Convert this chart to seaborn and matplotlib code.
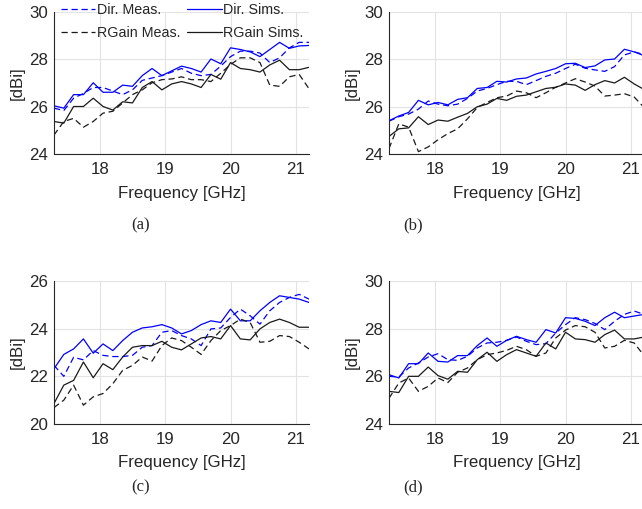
import numpy as np
import pandas as pd
import matplotlib
matplotlib.use('Agg')
import matplotlib.pyplot as plt
import seaborn as sns

# frequency grid [GHz]
freq = np.round(np.arange(17.3, 21.21, 0.15), 2)

# (a)
a_dir_meas = [25.93, 25.83, 26.35, 26.55, 26.8, 26.8, 26.65, 26.5, 26.7, 27.1, 27.2, 27.3, 27.45, 27.6,
              27.4, 27.3, 27.35, 27.7, 28.1, 28.33, 28.33, 28.25, 27.85, 28.05, 28.47, 28.7, 28.7]
a_dir_sims = [26.03, 25.93, 26.5, 26.5, 27.0, 26.6, 26.6, 26.9, 26.85, 27.3, 27.6, 27.3, 27.5, 27.7,
              27.6, 27.45, 28.0, 27.8, 28.47, 28.4, 28.3, 28.1, 28.4, 28.7, 28.45, 28.55, 28.57]
a_rg_meas = [24.8, 25.37, 25.5, 25.13, 25.37, 25.72, 25.8, 26.15, 26.5, 26.7, 27.0, 27.13, 27.16, 27.25,
             27.13, 27.13, 27.05, 27.4, 27.77, 28.05, 28.05, 27.85, 26.9, 26.85, 27.25, 27.35, 26.75]
a_rg_sims = [25.37, 25.3, 26.0, 26.0, 26.35, 26.0, 25.85, 26.2, 26.15, 26.8, 27.05, 26.7, 26.95, 27.05,
             26.95, 26.8, 27.35, 27.15, 27.85, 27.6, 27.55, 27.45, 27.75, 27.95, 27.55, 27.55, 27.65]

# (b)
b_dir_meas = [25.38, 25.57, 25.68, 25.89, 26.23, 26.1, 26.03, 26.1, 26.34, 26.65, 26.76, 26.92, 27.06, 27.06,
              26.92, 27.09, 27.27, 27.4, 27.6, 27.78, 27.61, 27.54, 27.48, 27.68, 28.17, 28.3, 28.19]
b_dir_sims = [25.4, 25.6, 25.75, 26.26, 26.07, 26.17, 26.07, 26.3, 26.37, 26.76, 26.8, 27.06, 27.03, 27.16,
              27.2, 27.37, 27.48, 27.6, 27.8, 27.82, 27.64, 27.71, 27.96, 28.0, 28.41, 28.3, 28.14]
b_rg_meas = [24.23, 25.27, 25.13, 24.1, 24.3, 24.6, 24.86, 25.06, 25.48, 25.96, 26.17, 26.37, 26.44, 26.65,
             26.58, 26.37, 26.58, 26.81, 26.99, 27.17, 27.03, 26.86, 26.44, 26.48, 26.54, 26.4, 25.96]
b_rg_sims = [24.74, 25.06, 25.1, 25.57, 25.24, 25.43, 25.38, 25.55, 25.71, 25.99, 26.1, 26.34, 26.26, 26.43,
             26.48, 26.62, 26.76, 26.81, 26.95, 26.9, 26.68, 26.92, 27.09, 26.99, 27.23, 26.95, 26.72]

# (c)
c_dir_meas = [22.46, 22.0, 22.8, 22.69, 23.08, 22.88, 22.83, 22.83, 22.88, 23.22, 23.29, 23.85, 23.92, 23.71,
              23.57, 23.29, 23.99, 24.03, 24.47, 24.82, 24.54, 24.19, 24.75, 25.1, 25.31, 25.44, 25.24]
c_dir_sims = [22.32, 22.92, 23.15, 23.57, 22.97, 23.36, 23.08, 23.5, 23.85, 24.03, 24.08, 24.17, 24.03, 23.78,
              23.92, 24.17, 24.33, 24.26, 24.82, 24.33, 24.33, 24.75, 25.1, 25.38, 25.31, 25.24, 25.1]
c_rg_meas = [20.69, 21.0, 21.63, 20.79, 21.14, 21.28, 21.69, 22.25, 22.46, 22.81, 22.64, 23.29, 23.61, 23.5,
             23.22, 22.92, 23.5, 23.92, 24.13, 24.4, 24.26, 23.43, 23.47, 23.71, 23.67, 23.43, 23.15]
c_rg_sims = [20.86, 21.63, 21.83, 22.6, 21.94, 22.53, 22.28, 22.81, 23.22, 23.29, 23.29, 23.47, 23.22, 23.11,
             23.36, 23.61, 23.67, 23.57, 24.13, 23.57, 23.53, 23.99, 24.26, 24.4, 24.26, 24.06, 24.06]

# (d)
d_dir_meas = [26.0, 25.97, 26.35, 26.56, 26.81, 26.95, 26.7, 26.67, 26.84, 27.19, 27.4, 27.43, 27.51, 27.65,
              27.47, 27.33, 27.37, 27.82, 28.17, 28.46, 28.38, 28.22, 27.96, 28.31, 28.6, 28.74, 28.6]
d_dir_sims = [26.07, 25.93, 26.53, 26.53, 26.98, 26.63, 26.6, 26.87, 26.87, 27.29, 27.61, 27.26, 27.51, 27.68,
              27.54, 27.43, 27.96, 27.82, 28.46, 28.43, 28.31, 28.13, 28.46, 28.69, 28.46, 28.53, 28.6]
d_rg_meas = [25.08, 25.72, 25.93, 25.37, 25.58, 25.93, 25.74, 26.17, 26.35, 26.7, 26.91, 26.98, 27.09, 27.26,
             27.12, 26.84, 26.98, 27.61, 27.94, 28.13, 28.08, 27.85, 27.19, 27.26, 27.51, 27.4, 26.87]
d_rg_sims = [25.37, 25.32, 26.0, 26.0, 26.39, 26.03, 25.88, 26.21, 26.17, 26.7, 27.01, 26.63, 26.91, 27.12,
             26.98, 26.84, 27.4, 27.15, 27.85, 27.57, 27.54, 27.43, 27.75, 27.94, 27.57, 27.57, 27.65]

series_names = ['Dir. Meas.', 'Dir. Sims.', 'RGain Meas.', 'RGain Sims.']
series_color = {'Dir. Meas.': '#0000ff', 'Dir. Sims.': '#0000ff',
                'RGain Meas.': 'k', 'RGain Sims.': 'k'}
series_ls = {'Dir. Meas.': (0, (5, 3)), 'Dir. Sims.': '-',
             'RGain Meas.': (0, (5, 3)), 'RGain Sims.': '-'}

panels = [
    ('(a)', [a_dir_meas, a_dir_sims, a_rg_meas, a_rg_sims], (24, 30), [24, 26, 28, 30]),
    ('(b)', [b_dir_meas, b_dir_sims, b_rg_meas, b_rg_sims], (24, 30), [24, 26, 28, 30]),
    ('(c)', [c_dir_meas, c_dir_sims, c_rg_meas, c_rg_sims], (20, 26), [20, 22, 24, 26]),
    ('(d)', [d_dir_meas, d_dir_sims, d_rg_meas, d_rg_sims], (24, 30), [24, 26, 28, 30]),
]

sns.set_theme(style='white')
plt.rcParams['font.family'] = ['Liberation Sans', 'DejaVu Sans']

W, H = 642, 509
fig = plt.figure(figsize=(W / 100, H / 100), dpi=100)

# axes boxes in pixels: left, top, right, bottom
boxes = [(54, 11.5, 309, 154), (389, 11.5, 644, 154),
         (54, 281, 309, 424), (389, 281, 644, 424)]
cap_pos = [(141, 225), (413, 225), (141, 487), (413, 487)]

axc = '#262626'
axes = []
for (cap, vals, ylim, yticks), (l, t, r, b), (cx, cy) in zip(panels, boxes, cap_pos):
    ax = fig.add_axes([l / W, 1 - b / H, (r - l) / W, (b - t) / H])
    df = pd.DataFrame({'freq': np.tile(freq, 4),
                       'val': np.concatenate(vals),
                       'series': np.repeat(series_names, len(freq))})
    for name in series_names:
        sub = df[df['series'] == name]
        sns.lineplot(data=sub, x='freq', y='val', ax=ax, color=series_color[name],
                     linestyle=series_ls[name], linewidth=0.9, label=name, legend=False,
                     clip_on=True)
    ax.set_xlim(17.3, 21.2)
    ax.set_ylim(*ylim)
    ax.set_xticks([18, 19, 20, 21])
    ax.set_yticks(yticks)
    ax.grid(True, color='#e3e3e3', linewidth=0.8)
    ax.set_axisbelow(True)
    for s in ['top', 'right']:
        ax.spines[s].set_visible(False)
    for s in ['left', 'bottom']:
        ax.spines[s].set_color(axc)
        ax.spines[s].set_linewidth(0.8)
    ax.tick_params(direction='in', length=3.5, width=0.8, colors=axc,
                   labelsize=12.2, labelcolor=axc)
    ax.tick_params(axis='x', pad=6)
    ax.tick_params(axis='y', pad=4)
    ax.set_xlabel('Frequency [GHz]', fontsize=12.2, color=axc, va='center')
    ax.xaxis.set_label_coords(0.5, -39 / (b - t))
    ax.set_ylabel('[dBi]', fontsize=12.2, color=axc, va='center')
    ax.yaxis.set_label_coords(-37 / (r - l), 0.5)
    fig.text(cx / W, 1 - cy / H, cap, ha='center', va='center',
             family='Liberation Serif', fontsize=12)
    axes.append(ax)

# legend on panel (a), column-first order
ax = axes[0]
h, lab = ax.get_legend_handles_labels()
order = [0, 2, 1, 3]
fig.legend([h[i] for i in order], [lab[i] for i in order], ncol=2,
           loc='upper left', bbox_to_anchor=(61 / W, 1 - 3 / H), frameon=False,
           fontsize=10.3, handlelength=2.4, handletextpad=0.1, columnspacing=0.5,
           labelspacing=0.6, borderpad=0, borderaxespad=0, labelcolor=axc)

fig.savefig('out.png', dpi=100)
